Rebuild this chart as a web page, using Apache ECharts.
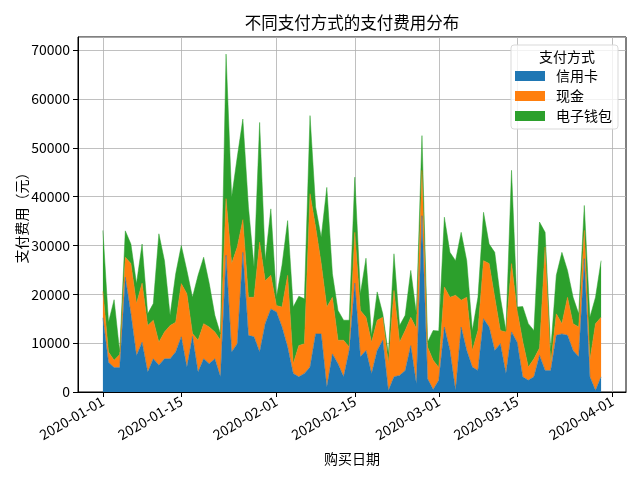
<!DOCTYPE html>
<html>
<head>
<meta charset="utf-8">
<script src="https://cdn.jsdelivr.net/npm/echarts@6/dist/echarts.min.js"></script>
<style>html,body{margin:0;padding:0;background:#fff}#c{width:640px;height:480px}</style>
</head>
<body>
<div id="c"></div>
<script>
var dates = [
'2020-01-01','2020-01-02','2020-01-03','2020-01-04','2020-01-05','2020-01-06','2020-01-07','2020-01-08','2020-01-09','2020-01-10',
'2020-01-11','2020-01-12','2020-01-13','2020-01-14','2020-01-15','2020-01-16','2020-01-17','2020-01-18','2020-01-19','2020-01-20',
'2020-01-21','2020-01-22','2020-01-23','2020-01-24','2020-01-25','2020-01-26','2020-01-27','2020-01-28','2020-01-29','2020-01-30',
'2020-01-31','2020-02-01','2020-02-02','2020-02-03','2020-02-04','2020-02-05','2020-02-06','2020-02-07','2020-02-08','2020-02-09',
'2020-02-10','2020-02-11','2020-02-12','2020-02-13','2020-02-14','2020-02-15','2020-02-16','2020-02-17','2020-02-18','2020-02-19',
'2020-02-20','2020-02-21','2020-02-22','2020-02-23','2020-02-24','2020-02-25','2020-02-26','2020-02-27','2020-02-28','2020-02-29',
'2020-03-01','2020-03-02','2020-03-03','2020-03-04','2020-03-05','2020-03-06','2020-03-07','2020-03-08','2020-03-09','2020-03-10',
'2020-03-11','2020-03-12','2020-03-13','2020-03-14','2020-03-15','2020-03-16','2020-03-17','2020-03-18','2020-03-19','2020-03-20',
'2020-03-21','2020-03-22','2020-03-23','2020-03-24','2020-03-25','2020-03-26','2020-03-27','2020-03-28','2020-03-29','2020-03-30'
];
var seriesNames = ['信用卡', '现金', '电子钱包'];
var creditCard = [15200,6100,5000,5000,23500,16000,7500,10200,4100,6800,
5500,6800,6800,8200,11300,5100,11400,4100,6800,5800,
6800,3100,28000,8200,9900,28600,11600,11300,8200,14000,
17000,16400,13300,9200,3800,3100,3800,5100,11900,11900,
1000,7800,5800,3100,8500,22300,7200,8500,3800,8500,
10600,300,3100,3400,4400,9500,1700,36100,2700,500,
2400,13300,8500,300,13300,8500,5100,4400,15000,13300,
8500,9900,3800,12300,10200,3100,2400,3100,7500,4400,
4400,11600,11900,11600,8500,7200,27300,3100,300,3100];
var cash = [5400,2100,1500,2700,4100,10300,10600,12100,9500,7900,
4700,5500,6800,6100,10900,15000,600,6500,7200,7500,
5500,7500,11600,18100,19800,6700,7800,8100,22500,8800,
6900,1300,4100,14700,2000,6400,6100,35500,21900,14400,
16400,11600,4800,7500,700,10400,9500,6800,6400,6200,
4700,5500,17700,6800,8200,5800,11300,9300,6500,6000,
2600,8200,10900,19500,5500,10900,3400,8200,11900,13000,
10900,2700,8500,14000,6500,7300,2700,3700,1500,25300,
1400,4400,2100,7800,5500,6100,5800,3400,13700,12200];
var eWallet = [12500,6100,12400,500,5400,4000,4100,8000,2400,3400,
22200,14600,2100,9900,7800,4800,7400,13300,13600,8900,
3400,1300,29600,13600,18400,20600,18500,6200,24500,4200,
13600,1700,8600,11200,11600,10100,9200,16000,4100,5400,
24500,4800,6100,4100,5500,11300,3400,12100,1400,5800,
700,2000,7500,3400,3100,9600,3000,7100,1000,6100,
7500,14300,9200,7100,13900,7500,4100,6800,9900,4000,
9200,6800,300,19100,700,7100,8900,5800,25800,3000,
2700,7900,14600,5500,5400,2700,5100,8800,5400,11600];
var xTickLabels = ['2020-01-01','2020-01-15','2020-02-01','2020-02-15','2020-03-01','2020-03-15','2020-04-01'];

var colors = ['#1f77b4', '#ff7f0e', '#2ca02c'];
var FONT = '"Noto Sans CJK SC", "DejaVu Sans", sans-serif';
var DAY = 86400000;
function ts(s){ var p = s.split('-'); return Date.UTC(+p[0], +p[1]-1, +p[2]); }
function dayIndex(s){ return Math.round((ts(s) - ts(dates[0])) / DAY); }
var tickDays = xTickLabels.map(dayIndex);
var xMin = -4.45;
var xMax = dayIndex(dates[dates.length-1]) + 4.45;

// value first, day second so the stacked dimension is the y value
function mk(arr){ return arr.map(function(v,i){ return [v, dayIndex(dates[i])]; }); }
var allData = [creditCard, cash, eWallet];

var chart = echarts.init(document.getElementById('c'), null, {renderer:'canvas'});
chart.setOption({
  animation: false,
  textStyle: {fontFamily: FONT},
  title: [
    {text: '不同支付方式的支付费用分布', left: 347, top: 9, textAlign: 'center',
     textStyle: {fontFamily: FONT, fontSize: 16.5, fontWeight: 'normal', color: '#000'}},
    {text: '支付方式', left: 562, top: 45, textAlign: 'center',
     textStyle: {fontFamily: FONT, fontSize: 14, fontWeight: 'normal', color: '#000'}}
  ],
  legend: {
    orient: 'vertical', right: 22, top: 45,
    padding: [24, 6, 6, 4],
    itemWidth: 30, itemHeight: 10, itemGap: 6,
    icon: 'rect',
    borderColor: '#d9d9d9', borderWidth: 1, borderRadius: 3,
    backgroundColor: 'rgba(255,255,255,0.8)',
    textStyle: {fontFamily: FONT, fontSize: 14, color: '#000', lineHeight: 14, padding: [0, 0, 0, 6]},
    data: seriesNames
  },
  grid: {left: 78, right: 14, top: 37, bottom: 88, show: true, borderColor: '#000', borderWidth: 1, containLabel: false},
  xAxis: {
    type: 'value', min: xMin, max: xMax,
    name: '购买日期', nameLocation: 'middle', nameGap: 60, nameMoveOverlap: false,
    nameTextStyle: {fontFamily: FONT, fontSize: 14, color: '#000'},
    axisLine: {show: true, onZero: false, lineStyle: {color: '#000'}},
    axisTick: {show: true, length: 5, lineStyle: {color: '#000'}, customValues: tickDays},
    axisLabel: {rotate: 30, margin: 8, fontFamily: FONT, fontSize: 14, color: '#000',
                customValues: tickDays,
                formatter: function(v){ var k = tickDays.indexOf(Math.round(v)); return k >= 0 ? xTickLabels[k] : ''; }},
    splitLine: {show: true, lineStyle: {color: '#b0b0b0', width: 0.8}}
  },
  yAxis: {
    type: 'value', min: 0, max: 72700, interval: 10000,
    name: '支付费用（元）', nameLocation: 'middle', nameGap: 49, nameRotate: 90, nameMoveOverlap: false,
    nameTextStyle: {fontFamily: FONT, fontSize: 14, color: '#000'},
    axisLine: {show: true, onZero: false, lineStyle: {color: '#000'}},
    axisTick: {show: true, length: 5, lineStyle: {color: '#000'}},
    axisLabel: {margin: 8, fontFamily: FONT, fontSize: 14, color: '#000', showMaxLabel: false,
                formatter: function(v){ return String(v); }},
    splitLine: {show: true, lineStyle: {color: '#b0b0b0', width: 0.8}}
  },
  series: seriesNames.map(function(n, i){
    return {
      name: n, type: 'line', stack: 'total', data: mk(allData[i]),
      encode: {x: 1, y: 0},
      symbol: 'none', showSymbol: false,
      lineStyle: {width: 0.5, color: colors[i]},
      itemStyle: {color: colors[i]},
      areaStyle: {color: colors[i], opacity: 1}
    };
  })
});
</script>
</body>
</html>
